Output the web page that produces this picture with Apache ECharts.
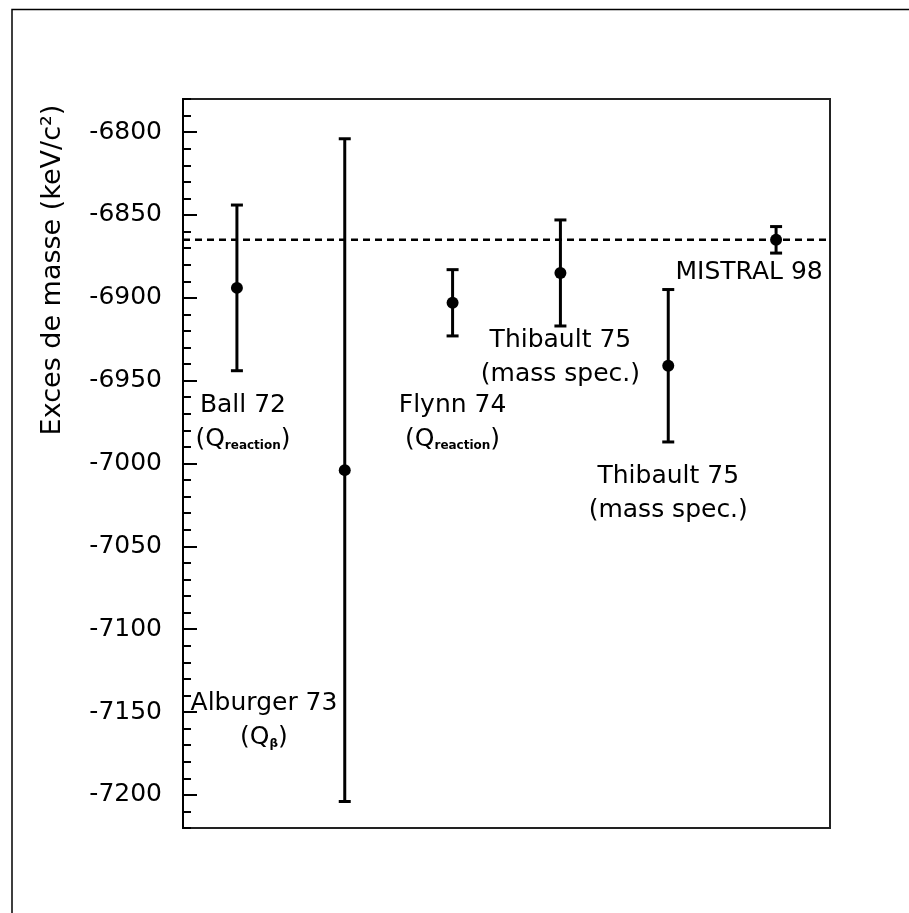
<!DOCTYPE html>
<html>
<head>
<meta charset="utf-8">
<script src="https://cdn.jsdelivr.net/npm/echarts@6/dist/echarts.min.js"></script>
<style>
html,body{margin:0;padding:0;background:#fff;}
#chart{width:909px;height:913px;}
</style>
</head>
<body>
<div id="chart"></div>
<script>
// ---- data ----
const categories = ['Ball 72', 'Alburger 73', 'Flynn 74', 'Thibault 75', 'Thibault 75', 'MISTRAL 98'];
const xPositions = [1, 2, 3, 4, 5, 6];
const massExcess = [-6894, -7004, -6903, -6885, -6941, -6865];
const massError = [50, 200, 20, 32, 46, 8];
const referenceValue = -6865;
const yTicks = [-7200, -7150, -7100, -7050, -7000, -6950, -6900, -6850, -6800];
// annotation anchors (data coordinates)
const noteText = [
  'Ball 72\n(Q{sub|reaction})',
  'Alburger 73\n(Q{sub|β})',
  'Flynn 74\n(Q{sub|reaction})',
  'Thibault 75\n(mass spec.)',
  'Thibault 75\n(mass spec.)',
  'MISTRAL 98'
];
const noteX = [1.056, 1.251, 3.0, 4.0, 5.0, 5.75];
const noteY = [-6975, -7155, -6975, -6936, -7018, -6885];

const FONT = 'DejaVu Sans';
const chart = echarts.init(document.getElementById('chart'), null, {renderer: 'canvas'});

const errData = xPositions.map((x, i) => [x, massExcess[i], massError[i]]);
const noteData = noteX.map((x, i) => [x, noteY[i], i]);

const option = {
  animation: false,
  backgroundColor: '#fff',
  graphic: [
    {type: 'rect', shape: {x: 12, y: 9.5, width: 1000, height: 1000},
     style: {fill: 'none', stroke: '#000', lineWidth: 1.5}, silent: true, z: -10},
    {type: 'text', x: 53, y: 270, rotation: Math.PI / 2,
     style: {text: 'Exces de masse (keV/c²)', font: '27px "DejaVu Sans"', fill: '#000',
             align: 'center', verticalAlign: 'middle'}}
  ],
  grid: {left: 183, top: 99, width: 647, height: 729, show: true,
         borderColor: '#222', borderWidth: 2, backgroundColor: 'transparent'},
  xAxis: {type: 'value', min: 0.5, max: 6.5, show: true,
          axisLine: {show: false}, axisTick: {show: false}, axisLabel: {show: false},
          splitLine: {show: false}},
  yAxis: [
    {type: 'value', min: -7220, max: -6780, splitNumber: 9, position: 'left',
     axisLine: {show: true, onZero: false, lineStyle: {color: '#000', width: 2}},
     axisTick: {show: true, inside: true, length: 14, lineStyle: {color: '#000', width: 2}},
     axisLabel: {show: true, margin: 21, fontFamily: FONT, fontSize: 25, color: '#000',
                 showMinLabel: false, showMaxLabel: false,
                 formatter: v => yTicks.indexOf(v) >= 0 ? '-' + Math.abs(v) : ''},
     splitLine: {show: false}},
    {type: 'value', min: -7220, max: -6780, interval: 10, position: 'left', offset: 0,
     axisLine: {show: false}, axisLabel: {show: false}, splitLine: {show: false},
     axisTick: {show: true, inside: true, length: 8, lineStyle: {color: '#000', width: 2}}}
  ],
  series: [
    {type: 'line', yAxisIndex: 0, data: [[0.5, referenceValue], [6.5, referenceValue]],
     symbol: 'none', silent: true,
     lineStyle: {color: '#000', width: 2.5, type: [7, 5]}, z: 1},
    {type: 'custom', yAxisIndex: 0, data: errData, encode: {x: 0, y: 1}, z: 3,
     renderItem: function (params, api) {
       const x = api.value(0), v = api.value(1), e = api.value(2);
       const pT = api.coord([x, v + e]);
       const pB = api.coord([x, v - e]);
       const pC = api.coord([x, v]);
       const cap = 6;
       const st = {stroke: '#000', lineWidth: 3};
       return {type: 'group', children: [
         {type: 'line', shape: {x1: pT[0], y1: pT[1], x2: pB[0], y2: pB[1]}, style: st},
         {type: 'line', shape: {x1: pT[0] - cap, y1: pT[1], x2: pT[0] + cap, y2: pT[1]}, style: st},
         {type: 'line', shape: {x1: pB[0] - cap, y1: pB[1], x2: pB[0] + cap, y2: pB[1]}, style: st},
         {type: 'circle', shape: {cx: pC[0], cy: pC[1], r: 6}, style: {fill: '#000'}}
       ]};
     }},
    {type: 'custom', yAxisIndex: 0, data: noteData, encode: {x: 0, y: 1}, z: 4, silent: true,
     renderItem: function (params, api) {
       const p = api.coord([api.value(0), api.value(1)]);
       const idx = api.value(2);
       return {type: 'text', x: p[0], y: p[1],
         style: {text: noteText[idx], fill: '#000', font: '25px "DejaVu Sans"',
                 align: 'center', verticalAlign: 'middle', lineHeight: 34,
                 rich: {sub: {fill: '#000', font: 'bold 12px "DejaVu Sans"',
                              padding: [14, 0, 0, 0], lineHeight: 34}}}};
     }}
  ]
};
chart.setOption(option);
</script>
</body>
</html>
